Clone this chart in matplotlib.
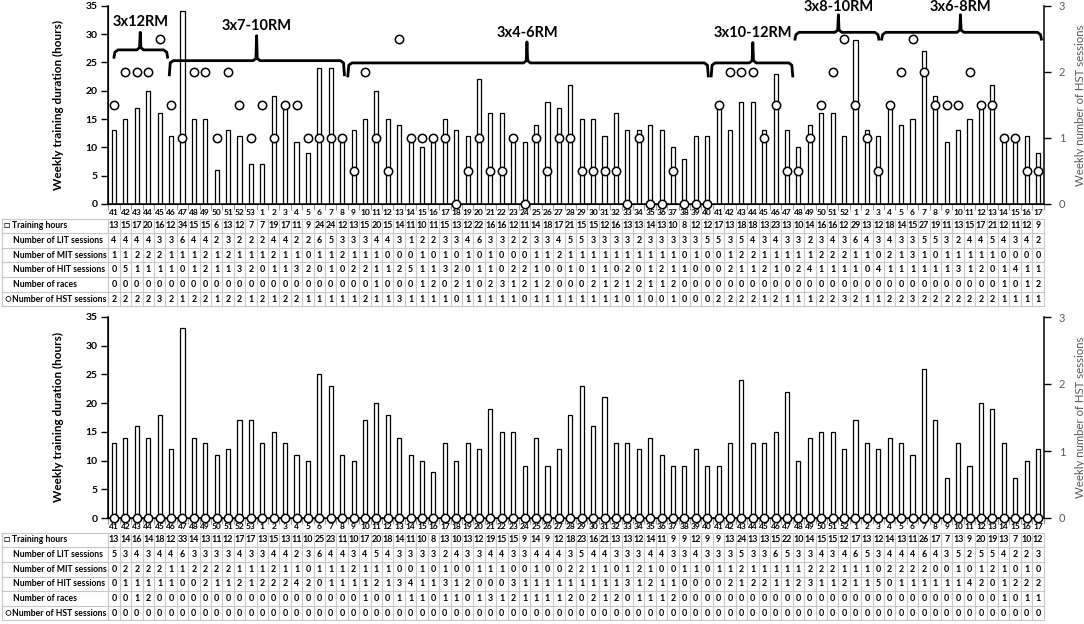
import matplotlib
matplotlib.use("Agg")
import matplotlib.pyplot as plt
from matplotlib.transforms import blended_transform_factory

plt.rcParams['font.family'] = ['Lato', 'DejaVu Sans']

W, H = 1084, 624

# week numbers (3 seasons: wk 41 of year 1 to wk 17 of year 3)
weeks = [41, 42, 43, 44, 45, 46, 47, 48, 49, 50, 51, 52, 53,
         1, 2, 3, 4, 5, 6, 7, 8, 9, 10, 11, 12, 13, 14, 15, 16, 17, 18, 19, 20,
         21, 22, 23, 24, 25, 26, 27, 28, 29, 30, 31, 32, 33, 34, 35, 36, 37, 38,
         39, 40, 41, 42, 43, 44, 45, 46, 47, 48, 49, 50, 51, 52,
         1, 2, 3, 4, 5, 6, 7, 8, 9, 10, 11, 12, 13, 14, 15, 16, 17]

row_names = ["Training hours", "Number of LIT sessions", "Number of MIT sessions",
             "Number of HIT sessions", "Number of races", "Number of HST sessions"]

# ---- top panel (HST group) ----
top_hours = [13, 15, 17, 20, 16, 12, 34, 15, 15, 6, 13, 12, 7,
             7, 19, 17, 11, 9, 24, 24, 12, 13, 15, 20, 15, 14, 11, 10, 11, 15, 13, 12, 22,
             16, 16, 12, 11, 14, 18, 17, 21, 15, 15, 12, 16, 13, 13, 14, 13, 10, 8,
             12, 12, 17, 13, 18, 18, 13, 23, 13, 10, 14, 16, 16, 12,
             29, 13, 12, 18, 14, 15, 27, 19, 11, 13, 15, 17, 21, 12, 11, 12, 9]
top_lit = [4, 4, 4, 4, 3, 3, 6, 4, 4, 2, 3, 2, 2,
           2, 4, 4, 2, 2, 6, 5, 3, 3, 3, 4, 4, 3, 1, 2, 2, 3, 3, 4, 6,
           3, 3, 2, 2, 3, 3, 4, 5, 5, 3, 3, 3, 3, 2, 3, 3, 3, 3,
           3, 5, 5, 3, 5, 4, 3, 4, 3, 3, 2, 3, 4, 3,
           6, 4, 3, 4, 3, 3, 5, 5, 3, 2, 4, 4, 5, 4, 3, 4, 2]
top_mit = [1, 1, 2, 2, 2, 1, 1, 1, 2, 1, 2, 1, 1,
           1, 2, 1, 1, 0, 1, 1, 2, 1, 1, 1, 0, 0, 0, 1, 0, 1, 0, 1, 0,
           1, 0, 0, 0, 1, 1, 2, 1, 1, 1, 1, 1, 1, 1, 1, 1, 1, 0,
           1, 0, 0, 1, 2, 2, 1, 1, 1, 1, 1, 2, 2, 2,
           1, 1, 0, 2, 1, 3, 1, 0, 1, 1, 1, 1, 1, 0, 0, 0, 0]
top_hit = [0, 5, 1, 1, 1, 1, 0, 1, 2, 1, 1, 3, 2,
           0, 1, 1, 3, 2, 0, 1, 0, 2, 2, 1, 1, 2, 5, 1, 1, 3, 2, 0, 1,
           1, 0, 2, 2, 1, 0, 0, 1, 0, 1, 1, 0, 2, 0, 1, 2, 1, 1,
           0, 0, 0, 2, 1, 1, 2, 1, 0, 2, 4, 1, 1, 1,
           1, 0, 4, 1, 1, 1, 1, 1, 1, 3, 1, 2, 0, 1, 4, 1, 1]
top_races = [0, 0, 0, 0, 0, 0, 0, 0, 0, 0, 0, 0, 0,
             0, 0, 0, 0, 0, 0, 0, 0, 0, 0, 1, 0, 0, 0, 1, 2, 0, 2, 1, 0,
             2, 3, 1, 2, 1, 2, 0, 0, 0, 2, 1, 2, 1, 2, 1, 1, 2, 0,
             0, 0, 0, 0, 0, 0, 0, 0, 0, 0, 0, 0, 0, 0,
             0, 0, 0, 0, 0, 0, 0, 0, 0, 0, 0, 0, 0, 1, 0, 1, 2]
top_hst_table = [2, 2, 2, 2, 3, 2, 1, 2, 2, 1, 2, 2, 1,
                 2, 1, 2, 2, 1, 1, 1, 1, 1, 2, 1, 1, 3, 1, 1, 1, 1, 0, 1, 1,
                 1, 1, 1, 0, 1, 1, 1, 1, 1, 1, 1, 1, 0, 1, 0, 0, 1, 0,
                 0, 0, 2, 2, 2, 2, 1, 2, 1, 1, 1, 2, 2, 3,
                 2, 1, 1, 2, 2, 3, 2, 2, 2, 2, 2, 2, 2, 1, 1, 1, 1]
top_hst = [1.5, 2, 2, 2, 2.5, 1.5, 1, 2, 2, 1, 2, 1.5, 1,
           1.5, 1, 1.5, 1.5, 1, 1, 1, 1, 0.5, 2, 1, 0.5, 2.5, 1, 1, 1, 1, 0, 0.5, 1,
           0.5, 0.5, 1, 0, 1, 0.5, 1, 1, 0.5, 0.5, 0.5, 0.5, 0, 1, 0, 0, 0.5, 0,
           0, 0, 1.5, 2, 2, 2, 1, 1.5, 0.5, 0.5, 1, 1.5, 2, 2.5,
           1.5, 1, 0.5, 1.5, 2, 2.5, 2, 1.5, 1.5, 1.5, 2, 1.5, 1.5, 1, 1, 0.5, 0.5]

# ---- bottom panel (control group) ----
bot_hours = [13, 14, 16, 14, 18, 12, 33, 14, 13, 11, 12, 17, 17,
             13, 15, 13, 11, 10, 25, 23, 11, 10, 17, 20, 18, 14, 11, 10, 8, 13, 10, 13, 12,
             19, 15, 15, 9, 14, 9, 12, 18, 23, 16, 21, 13, 13, 12, 14, 11, 9, 9,
             12, 9, 9, 13, 24, 13, 13, 15, 22, 10, 14, 15, 15, 12,
             17, 13, 12, 14, 13, 11, 26, 17, 7, 13, 9, 20, 19, 13, 7, 10, 12]
bot_lit = [5, 3, 4, 3, 4, 4, 6, 3, 3, 3, 3, 4, 3,
           3, 4, 4, 2, 3, 6, 4, 4, 3, 4, 5, 4, 3, 3, 3, 3, 2, 4, 3, 3,
           4, 4, 3, 3, 4, 4, 4, 3, 5, 4, 4, 3, 3, 3, 4, 4, 3, 3,
           4, 3, 3, 3, 5, 3, 3, 6, 5, 3, 3, 4, 3, 4,
           6, 5, 3, 4, 4, 4, 6, 4, 3, 5, 2, 5, 5, 4, 2, 2, 3]
bot_mit = [0, 2, 2, 2, 2, 1, 1, 2, 2, 2, 2, 1, 1,
           1, 2, 1, 1, 0, 1, 1, 1, 2, 1, 1, 1, 0, 0, 1, 0, 1, 0, 0, 1,
           1, 1, 0, 0, 1, 0, 0, 2, 2, 1, 1, 0, 1, 2, 1, 0, 0, 1,
           1, 0, 1, 1, 2, 1, 1, 1, 1, 1, 2, 2, 2, 1,
           1, 1, 0, 2, 2, 2, 2, 0, 0, 1, 0, 1, 2, 1, 0, 1, 0]
bot_hit = [0, 1, 1, 1, 1, 1, 0, 0, 2, 1, 1, 2, 1,
           2, 2, 2, 4, 2, 0, 1, 1, 1, 1, 2, 1, 3, 4, 1, 1, 3, 1, 2, 0,
           0, 0, 3, 1, 1, 1, 1, 1, 1, 1, 1, 1, 3, 1, 2, 1, 1, 0,
           0, 0, 0, 2, 1, 2, 2, 1, 1, 2, 3, 1, 1, 2,
           1, 1, 5, 0, 1, 1, 1, 1, 1, 1, 4, 2, 0, 1, 2, 2, 2]
bot_races = [0, 0, 1, 2, 0, 0, 0, 0, 0, 0, 0, 0, 0,
             0, 0, 0, 0, 0, 0, 0, 0, 0, 1, 0, 0, 1, 1, 1, 0, 1, 1, 0, 1,
             3, 1, 2, 1, 1, 1, 1, 2, 0, 2, 1, 2, 0, 1, 1, 1, 2, 0,
             0, 0, 0, 0, 0, 0, 0, 0, 0, 0, 0, 0, 0, 0,
             0, 0, 0, 0, 0, 0, 0, 0, 0, 0, 0, 0, 0, 1, 0, 1, 1]
bot_hst = [0] * 82

# strength phases of the HST group
phases = ["3x12RM", "3x7-10RM", "3x4-6RM", "3x10-12RM", "3x8-10RM", "3x6-8RM"]
# bracket geometry: x start, x end, spike x, level, end level, spike top, label y
bracket_geo = [(0.0, 4.7, 2.3, 27.2, 25.9, 30.3, 32.1),
               (4.85, 20.2, 12.5, 25.3, 22.8, 29.7, 31.4),
               (20.5, 52.1, 36.2, 24.9, 22.6, 28.6, 30.2),
               (52.35, 59.5, 56.0, 24.9, 22.6, 28.5, 30.1),
               (59.7, 67.05, 63.5, 30.3, 29.1, 33.4, 34.8),
               (67.3, 81.3, 74.2, 30.3, 29.1, 33.4, 34.8)]

GRID = '#c8c8c8'
GREY = '#595959'
AX_L, AX_R = 108.3, 1043.7


def box(l, t, r, b):
    return [l / W, 1 - b / H, (r - l) / W, (b - t) / H]


def fy(ypx):
    return 1 - ypx / H


def draw_panel(fig, rect, hours, hst, table, row_ys):
    x = list(range(len(hours)))
    ax = fig.add_axes(rect)
    ax.bar(x, hours, width=0.36, color='white', edgecolor='black', linewidth=0.9, zorder=2)
    ax.set_xlim(-0.5, len(hours) - 0.5)
    ax.set_ylim(0, 35)
    ax.set_yticks(range(0, 36, 5))
    ax.set_yticklabels([str(v) for v in range(0, 36, 5)], fontsize=7.5, fontweight='bold')
    ax.tick_params(axis='y', length=5, width=1, pad=2.5)
    ax.set_xticks(x)
    ax.set_xticklabels([str(w) for w in weeks], fontsize=6, fontweight='bold')
    ax.tick_params(axis='x', length=0, pad=3.5)
    ax.set_xticks([i - 0.5 for i in range(len(hours) + 1)], minor=True)
    ax.tick_params(axis='x', which='minor', length=4, width=0.8, color='#9a9a9a')
    ax.spines['top'].set_visible(False)
    ax.spines['right'].set_visible(False)
    for s in ['left', 'bottom']:
        ax.spines[s].set_linewidth(1.1)
    ax.set_ylabel("Weekly training duration (hours)", fontsize=8.5, fontweight='bold')
    ax.yaxis.set_label_coords((64 - AX_L) / (AX_R - AX_L), 0.5)

    ax2 = ax.twinx()
    ax2.plot(x, hst, 'o', mfc='white', mec='black', ms=6, mew=1.1, clip_on=False, zorder=3)
    ax2.set_ylim(0, 3)
    ax2.set_yticks([0, 1, 2, 3])
    ax2.tick_params(axis='y', length=5, width=1, pad=6, labelcolor=GREY, labelsize=8)
    ax2.spines['top'].set_visible(False)
    ax2.spines['right'].set_linewidth(1.1)
    ax2.set_ylabel("Weekly number of HST sessions", fontsize=8.2, color=GREY)
    ax2.yaxis.set_label_coords((1075 - AX_L) / (AX_R - AX_L), 0.5)

    # table below the chart
    tr = blended_transform_factory(ax.transData, fig.transFigure)
    step = row_ys[1] - row_ys[0]
    top_px = row_ys[0] - step / 2
    bot_px = row_ys[-1] + step / 2
    for k in range(len(row_ys) + 1):
        yy = fy(top_px + k * step)
        fig.add_artist(plt.Line2D([2 / W, AX_R / W], [yy, yy], color=GRID, lw=0.8))
    fig.add_artist(plt.Line2D([2 / W, 2 / W], [fy(top_px), fy(bot_px)], color=GRID, lw=0.8))
    for i in range(len(hours) + 1):
        ax.plot([i - 0.5, i - 0.5], [fy(top_px), fy(bot_px)], transform=tr,
                color=GRID, lw=0.8, clip_on=False)
    for r, (name, vals, ypx) in enumerate(zip(row_names, table, row_ys)):
        if r == 0 or r == len(row_names) - 1:
            mark = "\u25a1" if r == 0 else "\u25cb"
            fig.text(4 / W, fy(ypx), mark, fontsize=7.5, va='center', ha='left')
            fig.text(12 / W, fy(ypx), name, fontsize=6.2, fontweight='bold',
                     va='center', ha='left')
        else:
            fig.text(13 / W, fy(ypx), name, fontsize=6.2, fontweight='bold',
                     va='center', ha='left')
        for i, v in enumerate(vals):
            ax.text(i, fy(ypx), str(v), transform=tr, ha='center', va='center',
                    fontsize=6.4, fontweight='bold')
    return ax


fig = plt.figure(figsize=(W / 100, H / 100), dpi=100)

ax_top = draw_panel(fig, box(AX_L, 5.7, AX_R, 204), top_hours, top_hst,
                    [top_hours, top_lit, top_mit, top_hit, top_races, top_hst_table],
                    [226, 240.6, 255.2, 269.8, 284.4, 299])
ax_bot = draw_panel(fig, box(AX_L, 317, AX_R, 518), bot_hours, bot_hst,
                    [bot_hours, bot_lit, bot_mit, bot_hit, bot_races, bot_hst],
                    [540, 554.6, 569.2, 583.8, 598.4, 613])

# brackets with the strength phases
for name, (x0, x1, xs, yh, ye, yt, yl) in zip(phases, bracket_geo):
    px = [x0, x0 + 0.08, x0 + 0.35, xs - 0.3, xs - 0.06, xs, xs + 0.06, xs + 0.3,
          x1 - 0.35, x1 - 0.08, x1]
    py = [ye, yh - 0.4, yh, yh, yh + 0.4, yt, yh + 0.4, yh, yh, yh - 0.4, ye]
    ax_top.plot(px, py, color='black', lw=2, solid_joinstyle='round', clip_on=False, zorder=4)
    ax_top.text(xs, yl, name, ha='center', va='center', fontsize=10.5, fontweight='bold',
                zorder=5, clip_on=False)

fig.savefig("out.png", dpi=100)
